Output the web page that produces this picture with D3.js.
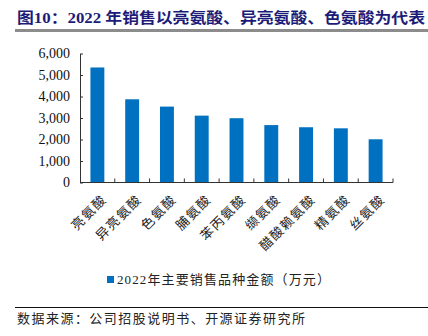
<!DOCTYPE html>
<html><head><meta charset="utf-8">
<script src="https://cdn.jsdelivr.net/npm/d3@7/dist/d3.min.js"></script>
<style>
html,body{margin:0;padding:0;background:#fff;}
svg{display:block;}
</style></head>
<body>
<svg id="c" width="428" height="336"></svg>
<script>
const categories = ["亮氨酸","异亮氨酸","色氨酸","脯氨酸","苯丙氨酸","缬氨酸","醋酸赖氨酸","精氨酸","丝氨酸"];
const values = [5350, 3870, 3530, 3110, 2990, 2670, 2570, 2520, 2010];
const yTicks = [0,1000,2000,3000,4000,5000,6000];
const titleText = "图10：2022 年销售以亮氨酸、异亮氨酸、色氨酸为代表";
const legendText = "2022年主要销售品种金额（万元）";
const sourceText = "数据来源：公司招股说明书、开源证券研究所";

const svg = d3.select("#c");
const serif = "'Liberation Serif','Times New Roman','Noto Sans CJK SC',serif";
const cjk = "'Liberation Serif','Noto Sans CJK SC',serif";

// Title
svg.append("text").attr("x",17).attr("y",23)
  .attr("font-family",cjk).attr("font-weight","bold").attr("font-size",15)
  .attr("fill","#1c1c78").attr("textLength",408).attr("lengthAdjust","spacingAndGlyphs")
  .text(titleText);
svg.append("line").attr("x1",15).attr("x2",428).attr("y1",30.5).attr("y2",30.5)
  .attr("stroke","#8c8c8c").attr("stroke-width",3);

const x = d3.scaleBand().domain(categories).range([80,393]).paddingInner(0.6).paddingOuter(0.3);
const y = d3.scaleLinear().domain([0,6000]).range([182.5,53.5]);

// bars
svg.append("g").selectAll("rect").data(values).join("rect")
  .attr("x",(d,i)=>x(categories[i]))
  .attr("width",x.bandwidth())
  .attr("y",d=>y(d))
  .attr("height",d=>y(0)-y(d))
  .attr("fill","#0070c0");

// y axis
const ya = svg.append("g").attr("transform","translate(80,0)")
  .call(d3.axisLeft(y).tickValues(yTicks).tickSizeInner(-3).tickSizeOuter(0).tickPadding(10).tickFormat(d3.format(",")));
ya.select(".domain").attr("stroke","#333");
ya.selectAll(".tick line").attr("stroke","#333");
ya.selectAll("text").attr("font-family",serif).attr("font-size",14).attr("fill","#111");

// x axis
const bounds = d3.range(categories.length+1).map(i=>80+i*((393-80)/categories.length));
const xa = svg.append("g");
xa.append("line").attr("x1",80).attr("x2",393).attr("y1",182.5).attr("y2",182.5).attr("stroke","#333");
xa.selectAll(".tk").data(bounds.slice(1)).join("line").attr("class","tk")
  .attr("x1",d=>d).attr("x2",d=>d).attr("y1",182.5).attr("y2",178.5).attr("stroke","#333");
xa.selectAll(".lbl").data(categories).join("text").attr("class","lbl")
  .attr("transform",d=>`translate(${x(d)+x.bandwidth()/2+7},${197}) rotate(-45)`)
  .attr("text-anchor","end").attr("dy","0.35em")
  .attr("font-family",cjk).attr("font-size",13).attr("fill","#222")
  .attr("letter-spacing","1.5px")
  .text(d=>d);

// legend
svg.append("rect").attr("x",107).attr("y",276).attr("width",7).attr("height",7).attr("fill","#0070c0");
svg.append("text").attr("x",117).attr("y",284)
  .attr("font-family",cjk).attr("font-size",13).attr("fill","#222")
  .attr("textLength",213).attr("lengthAdjust","spacing")
  .text(legendText);

// source
svg.append("line").attr("x1",15).attr("x2",428).attr("y1",307.5).attr("y2",307.5).attr("stroke","#111").attr("stroke-width",1);
svg.append("text").attr("x",17).attr("y",323)
  .attr("font-family",cjk).attr("font-size",13).attr("fill","#222")
  .attr("textLength",288).attr("lengthAdjust","spacing")
  .text(sourceText);
</script>
</body></html>
